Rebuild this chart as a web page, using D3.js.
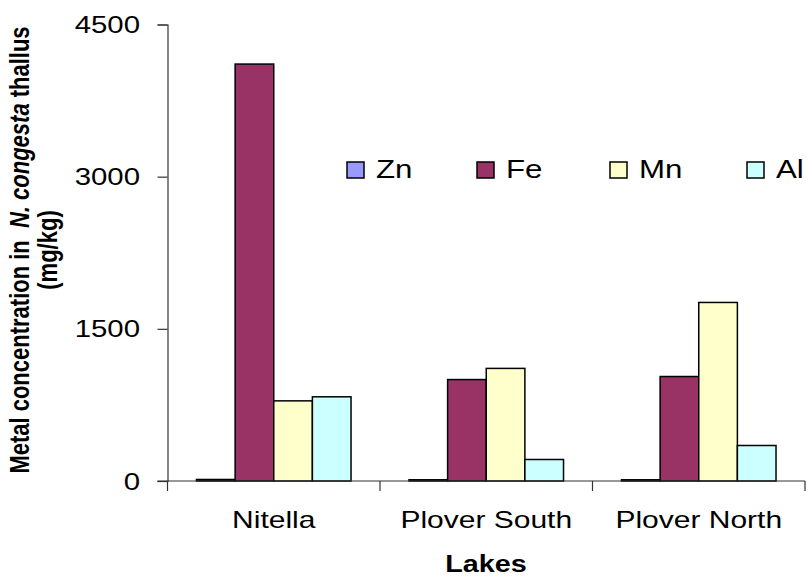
<!DOCTYPE html>
<html>
<head>
<meta charset="utf-8">
<script src="https://cdn.jsdelivr.net/npm/d3@7"></script>
<style>
  html, body { margin: 0; padding: 0; background: #fff; }
  svg { display: block; font-family: Arial, "Liberation Sans", sans-serif; }
</style>
</head>
<body>
<svg id="chart" width="807" height="578"></svg>
<script>
// ---- data ----
const lakes = ["Nitella", "Plover South", "Plover North"];
const metals = ["Zn", "Fe", "Mn", "Al"];
const Zn = [15, 12, 12];
const Fe = [4110, 1000, 1030];
const Mn = [790, 1110, 1760];
const Al = [830, 212, 350];
const yTicks = [0, 1500, 3000, 4500];
const colors = ["#9999FF", "#993366", "#FFFFCC", "#CCFFFF"];
const seriesValues = { Zn, Fe, Mn, Al };

// ---- layout ----
const svg = d3.select("#chart");
const SX = 1.25; // horizontal text stretch of the original
const plotLeft = 167.5, plotRight = 805, plotTop = 24.5, plotBottom = 481;

const x = d3.scaleBand().domain(lakes).range([plotLeft, plotRight]).paddingInner(0).paddingOuter(0);
const bw = x.bandwidth();
const gap = bw * 0.75 / 5.5;
const xi = d3.scaleBand().domain(metals).range([gap, bw - gap]).padding(0);
const y = d3.scaleLinear().domain([0, 4500]).range([plotBottom, plotTop]);

// bars
const g = svg.append("g");
metals.forEach((m, mi) => {
  g.selectAll(null)
    .data(lakes.map((l, li) => ({ lake: l, v: seriesValues[m][li] })))
    .enter().append("rect")
    .attr("x", d => x(d.lake) + xi(m))
    .attr("y", d => y(d.v))
    .attr("width", xi.bandwidth())
    .attr("height", d => y(0) - y(d.v))
    .attr("fill", colors[mi])
    .attr("stroke", "#000")
    .attr("stroke-width", 1.5);
});

// y axis
const yAxis = svg.append("g").attr("transform", `translate(${plotLeft},0)`)
  .call(d3.axisLeft(y).tickValues(yTicks).tickSize(10).tickFormat(""));
yAxis.select(".domain").attr("stroke", "#333").attr("stroke-width", 1.2);
yAxis.selectAll(".tick line").attr("stroke", "#333").attr("stroke-width", 1.2);
yTicks.forEach(t => {
  svg.append("text")
    .attr("transform", `translate(140,${y(t) + 8.5}) scale(${SX},1)`)
    .attr("text-anchor", "end")
    .attr("font-size", 23.5)
    .attr("fill", "#000")
    .text(t);
});

// x axis
const xAxis = svg.append("g").attr("transform", `translate(0,${plotBottom})`);
xAxis.append("line").attr("x1", plotLeft - 10).attr("x2", plotRight).attr("y1", 0).attr("y2", 0)
  .attr("stroke", "#333").attr("stroke-width", 1.2);
const bounds = lakes.map(l => x(l)).concat([x(lakes[lakes.length - 1]) + bw]);
xAxis.selectAll(".xt").data(bounds).enter().append("line")
  .attr("x1", d => d).attr("x2", d => d).attr("y1", 0).attr("y2", 10)
  .attr("stroke", "#333").attr("stroke-width", 1.2);
lakes.forEach(l => {
  svg.append("text")
    .attr("transform", `translate(${x(l) + bw / 2},528) scale(${SX},1)`)
    .attr("text-anchor", "middle")
    .attr("font-size", 24)
    .attr("fill", "#000")
    .text(l);
});

// x title
svg.append("text")
  .attr("transform", `translate(486,572) scale(${SX},1)`)
  .attr("text-anchor", "middle")
  .attr("font-size", 23)
  .attr("font-weight", "bold")
  .text("Lakes");

// y title
const yt = svg.append("text")
  .attr("transform", `translate(29,250) scale(${SX},1) rotate(-90)`)
  .attr("text-anchor", "middle")
  .attr("font-size", 22)
  .attr("font-weight", "bold");
yt.append("tspan").text("Metal concentration in\u00A0\u00A0");
yt.append("tspan").attr("font-style", "italic").text("N. congesta");
yt.append("tspan").text(" thallus");
svg.append("text")
  .attr("transform", `translate(57,250) scale(${SX},1) rotate(-90)`)
  .attr("text-anchor", "middle")
  .attr("font-size", 22)
  .attr("font-weight", "bold")
  .text("(mg/kg)");

// legend
const legX = [347, 477, 610, 747];
metals.forEach((m, i) => {
  svg.append("rect")
    .attr("x", legX[i]).attr("y", 162)
    .attr("width", 17).attr("height", 16)
    .attr("fill", colors[i]).attr("stroke", "#000").attr("stroke-width", 1.5);
  svg.append("text")
    .attr("transform", `translate(${legX[i] + 29},178) scale(${SX},1)`)
    .attr("font-size", 25)
    .attr("fill", "#000")
    .text(m);
});
</script>
</body>
</html>
